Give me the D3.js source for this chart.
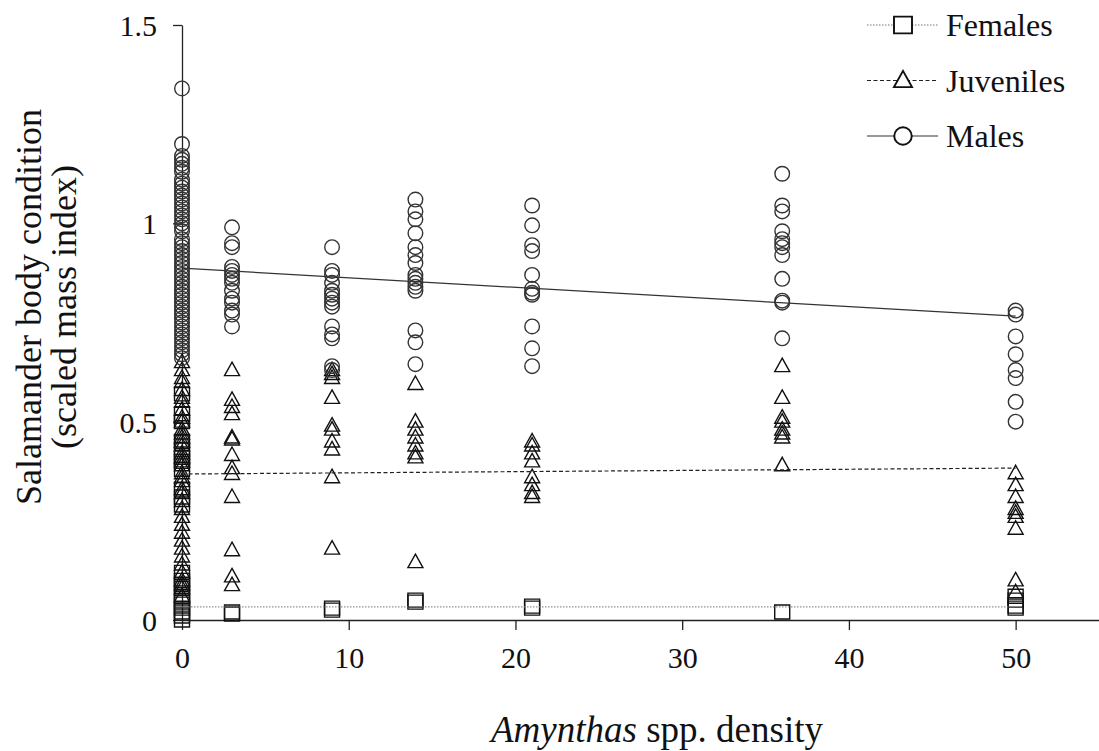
<!DOCTYPE html>
<html>
<head>
<meta charset="utf-8">
<script src="https://cdn.jsdelivr.net/npm/d3@7"></script>
<style>
  body { margin: 0; background: #fff; }
  svg text { font-family: "Liberation Serif", "Times New Roman", serif !important; fill: #111; }
</style>
</head>
<body>
<script>
// Amynthas density groups
var densities = [0, 3, 9, 14, 21, 36, 50];

// body condition per density group (same order as densities)
var maleValues = [
    [1.34, 1.20, 1.17, 1.16, 1.15, 1.14, 1.13, 1.11, 1.10, 1.09, 1.08, 1.07, 1.06, 1.05, 1.04, 1.03,
     1.02, 1.01, 1.00, 0.99, 0.98, 0.96, 0.95, 0.94, 0.93, 0.92, 0.91, 0.90, 0.89, 0.88, 0.87, 0.86,
     0.85, 0.84, 0.83, 0.82, 0.81, 0.80, 0.79, 0.78, 0.77, 0.76, 0.75, 0.74, 0.73, 0.72, 0.71, 0.70,
     0.69, 0.68, 0.67, 0.66],
    [0.99, 0.95, 0.94, 0.89, 0.88, 0.87, 0.86, 0.85, 0.83, 0.81, 0.80, 0.78, 0.77, 0.74],
    [0.94, 0.88, 0.87, 0.85, 0.83, 0.82, 0.81, 0.80, 0.79, 0.74, 0.72, 0.71, 0.64, 0.63],
    [1.06, 1.03, 1.01, 0.975, 0.94, 0.92, 0.90, 0.87, 0.86, 0.85, 0.84, 0.83, 0.73, 0.70, 0.645],
    [1.045, 0.995, 0.945, 0.93, 0.87, 0.835, 0.825, 0.82, 0.74, 0.685, 0.64],
    [1.125, 1.045, 1.03, 0.98, 0.96, 0.95, 0.94, 0.92, 0.86, 0.805, 0.80, 0.71],
    [0.78, 0.77, 0.715, 0.67, 0.63, 0.61, 0.55, 0.50]
];
var juvenileValues = [
    [0.65, 0.63, 0.61, 0.60, 0.58, 0.56, 0.55, 0.53, 0.51, 0.50, 0.48, 0.47, 0.46, 0.45, 0.44, 0.42,
     0.41, 0.40, 0.39, 0.37, 0.36, 0.35, 0.33, 0.32, 0.30, 0.28, 0.26, 0.24, 0.22, 0.20, 0.18, 0.16,
     0.14, 0.12, 0.10, 0.09, 0.08, 0.06],
    [0.63, 0.555, 0.537, 0.519, 0.46, 0.455, 0.416, 0.383, 0.368, 0.31, 0.176, 0.11, 0.088],
    [0.63, 0.62, 0.61, 0.56, 0.49, 0.48, 0.45, 0.43, 0.36, 0.18],
    [0.595, 0.50, 0.48, 0.46, 0.44, 0.42, 0.41, 0.146],
    [0.45, 0.44, 0.42, 0.40, 0.36, 0.34, 0.32, 0.31],
    [0.64, 0.56, 0.51, 0.50, 0.48, 0.47, 0.46, 0.39],
    [0.37, 0.34, 0.31, 0.28, 0.27, 0.26, 0.23, 0.10, 0.07]
];
var femaleValues = [
    [0.57, 0.52, 0.50, 0.45, 0.43, 0.41, 0.40, 0.38, 0.33, 0.31, 0.29, 0.12, 0.10, 0.09, 0.08, 0.06,
     0.05, 0.04, 0.03, 0.02, 0.01, 0.00],
    [0.02, 0.015],
    [0.03, 0.025],
    [0.05, 0.045],
    [0.035, 0.03],
    [0.02],
    [0.06, 0.05, 0.035, 0.03]
];

// fitted regression lines, at density 0 and 50
var fitX = [0, 50];
var maleFit = [0.887, 0.766];
var juvenileFit = [0.368, 0.383];
var femaleFit = [0.033, 0.033];

var xTicks = [0, 10, 20, 30, 40, 50];
var yTicks = [0, 0.5, 1, 1.5];
var legendLabels = ["Females", "Juveniles", "Males"];

var serif = '"Liberation Serif", "Times New Roman", serif';
var W = 1099, H = 751;
var svg = d3.select("body").append("svg")
    .attr("width", W)
    .attr("height", H);

var x = d3.scaleLinear().domain([0, 55]).range([182, 1099]);
var y = d3.scaleLinear().domain([0, 1.5]).range([620, 25]);

var circlePath = d3.symbol().type(d3.symbolCircle).size(Math.PI * 7.3 * 7.3)();
var trianglePath = "M0,-8L7.5,5.5L-7.5,5.5Z";
var squarePath = "M-7.5,-7L7.5,-7L7.5,7L-7.5,7Z";

var series = [
    {name: "Females", values: femaleValues, fit: femaleFit, shape: squarePath,
        stroke: "#111", lineColor: "#777", dash: "1.5,1.5", lineWidth: 1},
    {name: "Juveniles", values: juvenileValues, fit: juvenileFit, shape: trianglePath,
        stroke: "#111", lineColor: "#222", dash: "4,2.5", lineWidth: 1.2},
    {name: "Males", values: maleValues, fit: maleFit, shape: circlePath,
        stroke: "#333", lineColor: "#333", dash: null, lineWidth: 1.2}
];

// axes
var xAxis = svg.append("g")
    .attr("transform", "translate(0,620)")
    .attr("font-family", serif)
    .call(d3.axisBottom(x).tickValues(xTicks).tickSize(10).tickSizeOuter(0));
xAxis.attr("font-family", serif);
xAxis.selectAll("text")
    .attr("y", 48).attr("dy", 0)
    .style("font-family", serif)
    .style("font-size", "30px");

var yAxis = svg.append("g")
    .attr("transform", "translate(182,0)")
    .call(d3.axisLeft(y).tickValues(yTicks).tickSize(9).tickSizeOuter(0)
        .tickFormat(function (d) { return String(d); }));
yAxis.attr("font-family", serif);
yAxis.selectAll("text")
    .attr("x", -25).attr("dy", "0.35em")
    .style("font-family", serif)
    .style("font-size", "30px");

svg.selectAll(".domain, .tick line").attr("stroke", "#222").attr("stroke-width", 1.3);

// points
series.forEach(function (s) {
    var pts = [];
    densities.forEach(function (dens, i) {
        s.values[i].forEach(function (v) { pts.push([dens, v]); });
    });
    svg.append("g").selectAll("path")
        .data(pts)
        .enter()
        .append("path")
        .attr("d", s.shape)
        .attr("transform", function (d) {
            return "translate(" + x(d[0]) + "," + y(d[1]) + ")";
        })
        .attr("fill", "none")
        .attr("stroke", s.stroke)
        .attr("stroke-width", 1.4);
});

// fit lines
var line = d3.line()
    .x(function (d) { return x(d[0]); })
    .y(function (d) { return y(d[1]); });
series.forEach(function (s) {
    svg.append("path")
        .datum(fitX.map(function (fx, i) { return [fx, s.fit[i]]; }))
        .attr("d", line)
        .attr("fill", "none")
        .attr("stroke", s.lineColor)
        .attr("stroke-width", s.lineWidth)
        .attr("stroke-dasharray", s.dash);
});

// legend
var legend = svg.append("g").attr("transform", "translate(867,25)");
series.forEach(function (s, i) {
    var row = legend.append("g").attr("transform", "translate(0," + (i * 55.5) + ")");
    row.append("line")
        .attr("x1", 0).attr("x2", 71)
        .attr("stroke", s.lineColor)
        .attr("stroke-width", s.lineWidth)
        .attr("stroke-dasharray", s.dash);
    row.append("path")
        .attr("d", s.shape)
        .attr("transform", "translate(36,0) scale(1.2)")
        .attr("fill", "#fff")
        .attr("stroke", "#111")
        .attr("stroke-width", 1.6);
    row.append("text")
        .attr("x", 79).attr("y", 11)
        .style("font-size", "32px")
        .text(legendLabels[i]);
});

// axis titles
var xt = svg.append("text")
    .attr("x", 657).attr("y", 742)
    .attr("text-anchor", "middle")
    .style("font-size", "37px");
xt.append("tspan").style("font-style", "italic").text("Amynthas");
xt.append("tspan").text(" spp. density");

svg.append("text")
    .attr("transform", "translate(41,307) rotate(-90)")
    .attr("text-anchor", "middle")
    .style("font-size", "36px")
    .text("Salamander body condition");
svg.append("text")
    .attr("transform", "translate(76,307) rotate(-90)")
    .attr("text-anchor", "middle")
    .style("font-size", "36px")
    .text("(scaled mass index)");
</script>
</body>
</html>
